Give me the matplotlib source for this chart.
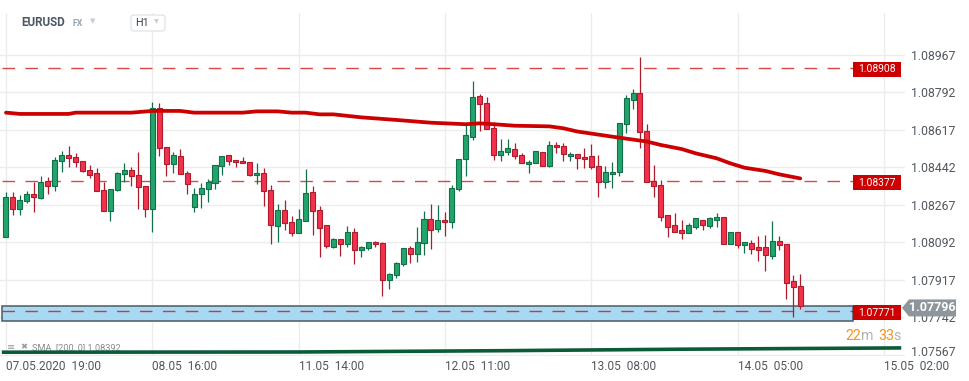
import numpy as np
import matplotlib
matplotlib.use("Agg")
import matplotlib.pyplot as plt
import matplotlib.transforms as mtrans
from matplotlib.patches import Rectangle, Polygon, FancyBboxPatch

plt.rcParams['font.family'] = ['Roboto', 'DejaVu Sans']

# EURUSD H1 candles (oldest first)
opens = [
    1.08116, 1.08303, 1.08247, 1.08284, 1.08317, 1.08298, 1.08378, 1.08354, 1.08471, 1.08499,
    1.08490, 1.08471, 1.08429, 1.08415, 1.08336, 1.08238, 1.08336, 1.08410, 1.08429, 1.08406,
    1.08354, 1.08247, 1.08718, 1.08536, 1.08457, 1.08494, 1.08415, 1.08256, 1.08317, 1.08340,
    1.08368, 1.08448, 1.08499, 1.08476, 1.08471, 1.08466, 1.08406, 1.08415, 1.08336, 1.08168,
    1.08242, 1.08186, 1.08135, 1.08191, 1.08326, 1.08242, 1.08172, 1.08073, 1.08107, 1.08084,
    1.08140, 1.08056, 1.08065, 1.08093, 1.08088, 1.07916, 1.07939, 1.07990, 1.08065, 1.08037,
    1.08088, 1.08200, 1.08154, 1.08196, 1.08186, 1.08340, 1.08480, 1.08583, 1.08774, 1.08742,
    1.08625, 1.08499, 1.08513, 1.08527, 1.08499, 1.08457, 1.08462, 1.08513, 1.08448, 1.08546,
    1.08541, 1.08494, 1.08504, 1.08490, 1.08494, 1.08448, 1.08373, 1.08410, 1.08420, 1.08644,
    1.08756, 1.08788, 1.08611, 1.08378, 1.08359, 1.08219, 1.08172, 1.08149, 1.08138, 1.08166,
    1.08195, 1.08171, 1.08199, 1.08209, 1.08083, 1.08143, 1.08079, 1.08088, 1.08069, 1.08069,
    1.08031, 1.08097, 1.08083, 1.07911, 1.07887]
highs = [
    1.08328, 1.08328, 1.08312, 1.08333, 1.08372, 1.08403, 1.08396, 1.08491, 1.08519, 1.08543,
    1.08510, 1.08471, 1.08454, 1.08438, 1.08372, 1.08340, 1.08421, 1.08462, 1.08443, 1.08515,
    1.08354, 1.08746, 1.08742, 1.08536, 1.08515, 1.08527, 1.08424, 1.08345, 1.08368, 1.08387,
    1.08452, 1.08494, 1.08499, 1.08476, 1.08490, 1.08466, 1.08462, 1.08440, 1.08359, 1.08270,
    1.08291, 1.08214, 1.08247, 1.08434, 1.08354, 1.08261, 1.08172, 1.08112, 1.08107, 1.08169,
    1.08158, 1.08074, 1.08093, 1.08098, 1.08093, 1.07948, 1.08000, 1.08065, 1.08074, 1.08163,
    1.08238, 1.08270, 1.08266, 1.08233, 1.08359, 1.08480, 1.08639, 1.08846, 1.08784, 1.08770,
    1.08653, 1.08574, 1.08574, 1.08555, 1.08508, 1.08476, 1.08518, 1.08513, 1.08564, 1.08560,
    1.08555, 1.08513, 1.08504, 1.08532, 1.08550, 1.08499, 1.08448, 1.08466, 1.08648, 1.08779,
    1.08807, 1.08959, 1.08644, 1.08452, 1.08382, 1.08219, 1.08228, 1.08195, 1.08181, 1.08205,
    1.08195, 1.08209, 1.08228, 1.08209, 1.08143, 1.08143, 1.08093, 1.08102, 1.08124, 1.08125,
    1.08192, 1.08121, 1.08083, 1.07940, 1.07943]
lows = [
    1.08116, 1.08221, 1.08221, 1.08278, 1.08232, 1.08295, 1.08320, 1.08330, 1.08423, 1.08446,
    1.08443, 1.08421, 1.08395, 1.08331, 1.08238, 1.08190, 1.08331, 1.08372, 1.08354, 1.08247,
    1.08213, 1.08143, 1.08496, 1.08400, 1.08415, 1.08410, 1.08320, 1.08236, 1.08252, 1.08283,
    1.08340, 1.08406, 1.08452, 1.08443, 1.08462, 1.08401, 1.08364, 1.08260, 1.08084, 1.08096,
    1.08149, 1.08120, 1.08135, 1.08191, 1.08129, 1.08023, 1.08065, 1.08065, 1.08031, 1.08073,
    1.07993, 1.08026, 1.08056, 1.08070, 1.07841, 1.07874, 1.07925, 1.07981, 1.07998, 1.08000,
    1.08032, 1.08060, 1.08140, 1.08121, 1.08158, 1.08331, 1.08401, 1.08569, 1.08611, 1.08620,
    1.08476, 1.08471, 1.08499, 1.08480, 1.08462, 1.08415, 1.08462, 1.08448, 1.08443, 1.08508,
    1.08471, 1.08471, 1.08434, 1.08441, 1.08434, 1.08303, 1.08345, 1.08345, 1.08401, 1.08602,
    1.08714, 1.08532, 1.08373, 1.08303, 1.08194, 1.08119, 1.08143, 1.08110, 1.08138, 1.08157,
    1.08152, 1.08161, 1.08166, 1.08083, 1.08083, 1.08068, 1.08045, 1.08040, 1.08007, 1.07961,
    1.08017, 1.08059, 1.07827, 1.07746, 1.07780]
closes = [
    1.08303, 1.08247, 1.08289, 1.08317, 1.08303, 1.08372, 1.08354, 1.08476, 1.08499, 1.08485,
    1.08466, 1.08424, 1.08406, 1.08331, 1.08238, 1.08340, 1.08415, 1.08429, 1.08401, 1.08350,
    1.08247, 1.08718, 1.08532, 1.08457, 1.08499, 1.08410, 1.08364, 1.08317, 1.08345, 1.08373,
    1.08452, 1.08494, 1.08471, 1.08466, 1.08462, 1.08406, 1.08415, 1.08331, 1.08172, 1.08242,
    1.08182, 1.08135, 1.08200, 1.08322, 1.08238, 1.08158, 1.08074, 1.08107, 1.08084, 1.08140,
    1.08056, 1.08070, 1.08093, 1.08084, 1.07916, 1.07944, 1.07995, 1.08065, 1.08037, 1.08093,
    1.08200, 1.08149, 1.08196, 1.08186, 1.08345, 1.08480, 1.08592, 1.08770, 1.08737, 1.08620,
    1.08499, 1.08518, 1.08532, 1.08494, 1.08462, 1.08466, 1.08518, 1.08448, 1.08546, 1.08536,
    1.08504, 1.08504, 1.08485, 1.08480, 1.08443, 1.08373, 1.08420, 1.08420, 1.08648, 1.08765,
    1.08788, 1.08606, 1.08373, 1.08354, 1.08213, 1.08166, 1.08143, 1.08138, 1.08172, 1.08205,
    1.08172, 1.08205, 1.08209, 1.08083, 1.08143, 1.08079, 1.08093, 1.08063, 1.08059, 1.08035,
    1.08097, 1.08079, 1.07905, 1.07883, 1.07796]

# SMA(200) sampled along the candles (candle index, value)
sma_idx = [0, 2, 9, 10, 18, 21, 25, 27, 34, 36, 39, 41, 43, 45, 47, 51, 56, 61, 66, 68,
           70, 73, 78, 80, 82, 87, 92, 94, 97, 99, 102, 104, 106, 109, 111, 114]
sma_val = [1.08698, 1.08692, 1.08692, 1.08698, 1.08698, 1.08706, 1.08706, 1.08698, 1.08698, 1.08704,
           1.08704, 1.08698, 1.08698, 1.08690, 1.08690, 1.08676, 1.08664, 1.08651, 1.08644, 1.08648,
           1.08644, 1.08637, 1.08634, 1.08625, 1.08610, 1.08586, 1.08563, 1.08547, 1.08528, 1.08508,
           1.08485, 1.08461, 1.08441, 1.08426, 1.08410, 1.08391]

# lower indicator line (dark green)
low_line_idx = [-0.6, 42, 71, 97, 128.5]
low_line_val = [1.07580, 1.07581, 1.07587, 1.07594, 1.07600]

levels = [1.08908, 1.08377, 1.07771]
zone = [1.07726, 1.07796]
last_price = 1.07796

ytick_vals = [1.08967, 1.08792, 1.08617, 1.08442, 1.08267, 1.08092, 1.07917, 1.07742, 1.07567]
xtick_idx = [0, 21, 42, 63, 84, 105, 126]
xtick_labels = ['07.05.2020  19:00', '08.05  16:00', '11.05  14:00', '12.05  11:00',
                '13.05  08:00', '14.05  05:00', '15.05  02:00']

W, H = 970, 381
fig = plt.figure(figsize=(W / 100, H / 100), dpi=100)
ax = fig.add_axes([0, 25 / H, 905 / W, 343 / H])


def fx(px):
    return px / W


def fy(py):
    return 1 - py / H


o = np.array(opens)
hi = np.array(highs)
lo = np.array(lows)
c = np.array(closes)
x = np.arange(len(o))
up = c >= o

g_fill, g_edge = '#22a46b', '#11704a'
r_fill, r_edge = '#f2314b', '#ad1c2c'

ax.set_xlim(-0.86, 129.04)
ax.set_ylim(1.075623, 1.091630)

# grid
ax.set_yticks(ytick_vals)
ax.set_xticks(xtick_idx)
ax.set_xticklabels(xtick_labels)
ax.set_axisbelow(True)
ax.grid(True, color='#ececec', lw=1.0)
for s in ax.spines.values():
    s.set_visible(False)
ax.yaxis.tick_right()
ax.tick_params(axis='y', length=0, pad=4, labelsize=8.8, labelcolor='#51575d')
ax.tick_params(axis='x', length=0, pad=3, labelsize=8.6, labelcolor='#51575d')
for t in ax.get_xticklabels():
    t.set_ha('left')
# bottom price label sits a little above its grid line
last_lab = ax.get_yticklabels()[-1]
last_lab.set_transform(last_lab.get_transform() +
                       mtrans.ScaledTranslation(0, 4 / 100, fig.dpi_scale_trans))

# support zone
x_end = 121.6
ax.add_patch(Rectangle((-0.57, zone[0]), x_end + 0.57, zone[1] - zone[0],
                       facecolor='#a8d9f2', edgecolor='#4c5a66', lw=1.1, zorder=1.7))

# horizontal levels
for lv in levels:
    ax.plot([-0.6, x_end], [lv, lv], color='#cc0000', alpha=0.72, lw=1.0,
            dashes=(9, 7.5), zorder=2)

# candles
ax.vlines(x[up], lo[up], hi[up], color=g_edge, lw=0.9, zorder=3)
ax.vlines(x[~up], lo[~up], hi[~up], color=r_edge, lw=0.9, zorder=3)
body_lo = np.minimum(o, c)
body_h = np.maximum(np.abs(c - o), 0.00002)
ax.bar(x[up], body_h[up], bottom=body_lo[up], width=0.72, color=g_fill,
       edgecolor=g_edge, lw=0.8, zorder=4)
ax.bar(x[~up], body_h[~up], bottom=body_lo[~up], width=0.72, color=r_fill,
       edgecolor=r_edge, lw=0.8, zorder=4)

# SMA 200
ax.plot(sma_idx, sma_val, color='#cc0000', lw=2.7, solid_capstyle='round', zorder=5)

# indicator legend + lower line
ax.text(fx(7), fy(347), '\u2261', transform=fig.transFigure, fontsize=7,
        color='#9a9a9a', va='center', zorder=5)
ax.text(fx(20), fy(347), '\u2716', transform=fig.transFigure, fontsize=6,
        color='#9a9a9a', va='center', zorder=5)
ax.text(fx(32), fy(347.5), 'SMA  [200, 0] 1.08392', transform=fig.transFigure,
        fontsize=6.6, color='#8a8a8a', va='center', zorder=5)
ax.plot(low_line_idx, low_line_val, color='#0b5a38', lw=2.6, solid_capstyle='butt',
        zorder=6, clip_on=False)


def price_fy(p):
    return ax.transData.transform((0, p))[1] / fig.bbox.height


# red level tags
for lv in levels:
    yc = price_fy(lv) - 1.5 / H
    fig.patches.append(Rectangle((fx(853), yc - 7.5 / H), 48 / W, 15 / H,
                                 transform=fig.transFigure, facecolor='#cc0000',
                                 edgecolor='none', zorder=2))
    fig.text(fx(877), yc, f'{lv:.5f}', color='white', fontsize=7.4,
             ha='center', va='center', zorder=3)

# last price tag
yc = price_fy(last_price) - 2 / H
pts = [(fx(902), yc), (fx(909), yc + 8.5 / H), (fx(956), yc + 8.5 / H),
       (fx(956), yc - 8.5 / H), (fx(909), yc - 8.5 / H)]
fig.patches.append(Polygon(pts, closed=True, transform=fig.transFigure,
                           facecolor='#8c969c', edgecolor='none', zorder=2))
fig.text(fx(932.5), yc, f'{last_price:.5f}', color='white', fontsize=9,
         fontweight='bold', ha='center', va='center', zorder=3)

# countdown timer
for px_, txt, col in [(845, '22', '#f7941d'), (861.5, 'm', '#b3b3b3'),
                      (878, '33', '#f7941d'), (893.5, 's', '#b3b3b3')]:
    fig.text(fx(px_), fy(336.5), txt, color=col, fontsize=10.2, va='center', ha='left')

# header
fig.text(fx(21), fy(23), 'EURUSD', fontsize=8.4, fontweight='bold', color='#4a5663',
         va='center')
fig.text(fx(73), fy(24), 'FX', fontsize=6.3, fontweight='bold', color='#95a3b5', va='center')
fig.text(fx(90), fy(21.5), '\u25bc', fontsize=5, color='#c8ccd2', va='center')
fig.patches.append(FancyBboxPatch((fx(131), fy(31)), 34 / W, 16 / H,
                                  boxstyle='round,pad=0,rounding_size=0.003',
                                  mutation_aspect=W / H, transform=fig.transFigure,
                                  facecolor='white', edgecolor='#dcdfe3', lw=0.8, zorder=2))
fig.text(fx(135), fy(23), 'H1', fontsize=7.8, color='#3c4650', va='center', zorder=3)
fig.text(fx(154), fy(22), '\u25bc', fontsize=4.6, color='#c8ccd2', va='center', zorder=3)

fig.savefig('out.png', dpi=100)
